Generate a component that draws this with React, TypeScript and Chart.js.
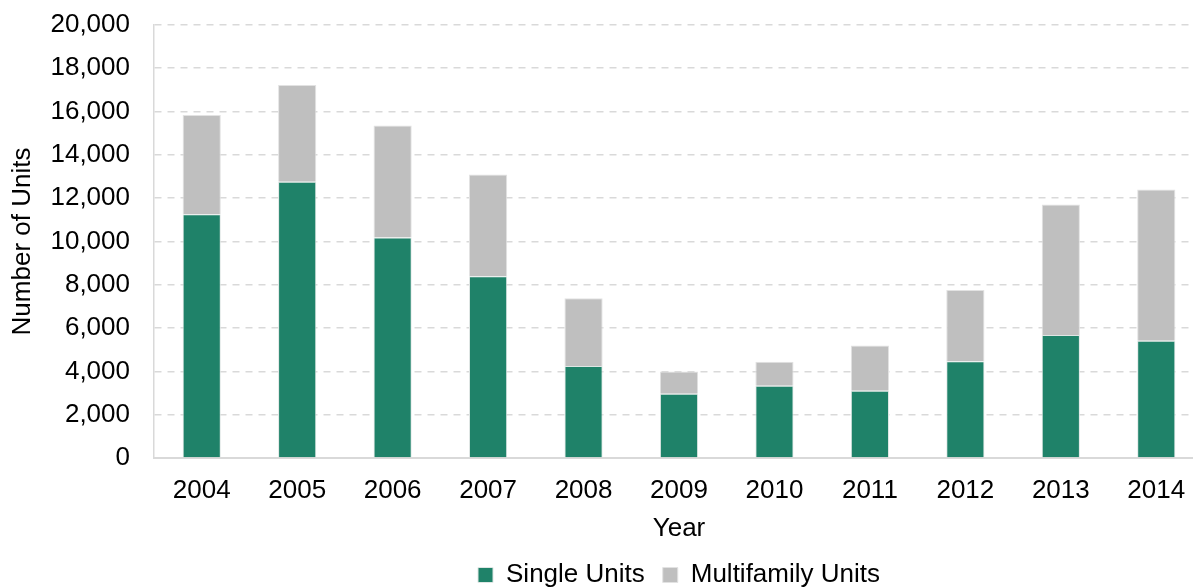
import React, { useEffect, useRef } from "react";
import { Chart, registerables } from "chart.js";

Chart.register(...registerables);

const years = ["2004", "2005", "2006", "2007", "2008", "2009", "2010", "2011", "2012", "2013", "2014"];
const singleUnits = [11260, 12760, 10180, 8390, 4250, 2970, 3340, 3110, 4470, 5680, 5410];
const multifamilyUnits = [4580, 4470, 5180, 4710, 3130, 1030, 1110, 2090, 3290, 6030, 6990];
const yTicks = [0, 2000, 4000, 6000, 8000, 10000, 12000, 14000, 16000, 18000, 20000];

const FONT = "'Liberation Sans', Arial, sans-serif";
const GRID = "#d9d9d9";

export default function App() {
  const ref = useRef<HTMLCanvasElement | null>(null);
  useEffect(() => {
    if (!ref.current) return;
    const chart = new Chart(ref.current, {
      type: "bar",
      data: {
        labels: years,
        datasets: [
          {
            label: "Single Units",
            data: singleUnits,
            backgroundColor: "#1f8269",
            borderColor: "#dfe6e4",
            borderWidth: 1,
            barPercentage: 0.4,
            categoryPercentage: 1,
          },
          {
            label: "Multifamily Units",
            data: multifamilyUnits,
            backgroundColor: "#bfbfbf",
            borderColor: "#e2e2e2",
            borderWidth: 1,
            barPercentage: 0.4,
            categoryPercentage: 1,
          },
        ],
      },
      options: {
        animation: false,
        responsive: false,
        layout: { padding: { top: 0, right: 4, bottom: -10, left: 0 } },
        plugins: {
          tooltip: { enabled: false },
          legend: {
            position: "bottom",
            fullSize: false,
            labels: {
              boxWidth: 15,
              boxHeight: 15,
              padding: 18,
              color: "#000",
              font: { family: FONT, size: 26 },
            },
          },
        },
        scales: {
          x: {
            stacked: true,
            grid: { display: false, drawTicks: false },
            border: { display: true, color: GRID, width: 2 },
            ticks: { color: "#000", font: { family: FONT, size: 26, lineHeight: 1 }, padding: 20, maxRotation: 0 },
            title: {
              display: true,
              text: "Year",
              color: "#000",
              font: { family: FONT, size: 26, lineHeight: 1 },
              padding: { top: -8, bottom: 2 },
            },
          },
          y: {
            stacked: true,
            min: 0,
            max: 20000,
            afterBuildTicks: (s: any) => {
              s.ticks = yTicks.map((v) => ({ value: v }));
            },
            afterFit: (s: any) => {
              s.width = 154;
              s.paddingTop = 25;
              s.paddingBottom = 0;
            },
            grid: { color: GRID, lineWidth: 1.6, drawTicks: false },
            border: { display: true, color: GRID, width: 1.5, dash: [7, 6] },
            ticks: {
              color: "#000",
              font: { family: FONT, size: 26 },
              padding: 24,
              callback: (v: any) => Number(v).toLocaleString("en-US"),
            },
            title: {
              display: true,
              text: "Number of Units",
              color: "#000",
              font: { family: FONT, size: 26 },
              padding: { top: 7, bottom: 0 },
            },
          },
        },
      },
    });
    return () => chart.destroy();
  }, []);
  return (
    <div style={{ position: "fixed", left: 0, top: 0, width: 1193, height: 588, overflow: "hidden", background: "#fff" }}>
      <canvas ref={ref} width={1208} height={588} style={{ display: "block" }} />
    </div>
  );
}
